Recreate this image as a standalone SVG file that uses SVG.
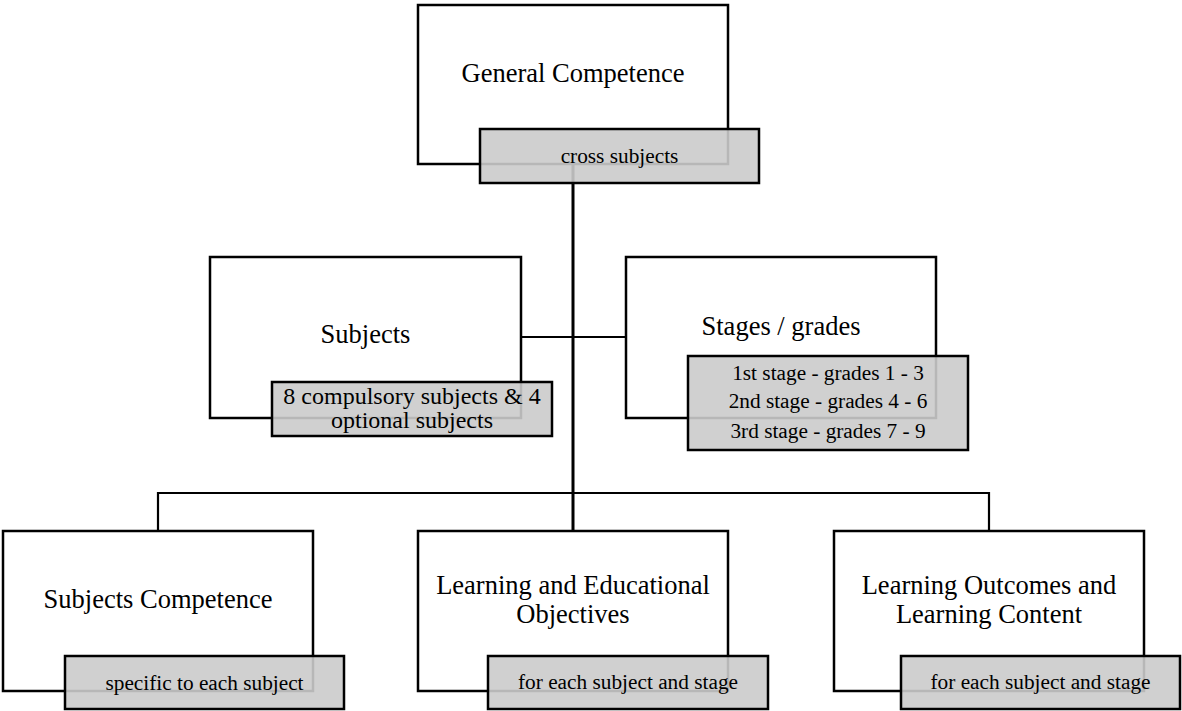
<svg xmlns="http://www.w3.org/2000/svg" width="1182" height="711" viewBox="0 0 1182 711">
<style>
.box{fill:#ffffff;stroke:#000;stroke-width:2.5}
.tag{fill:#cbcbcb;fill-opacity:0.9;stroke:#000;stroke-width:2.5}
.conn{fill:none;stroke:#000;stroke-width:2.2}
.trunk{fill:none;stroke:#000;stroke-width:3}
text{font-family:"Liberation Serif","Times New Roman",serif;fill:#000;text-anchor:middle}
.t{font-size:26.5px}
.s{font-size:21.3px}
.m{font-size:24px}
</style>
<rect width="1182" height="711" fill="#ffffff"/>
<g id="connectors">
<path class="conn" d="M521,337 H626"/>
<path class="conn" d="M158,531 V493 H989 V531"/>
<path class="trunk" d="M573,164 V531"/>
</g>
<g id="general">
<rect class="box" x="418" y="5" width="310" height="159"/>
<text class="t" x="573" y="82">General Competence</text>
<rect class="tag" x="480" y="129" width="279" height="54"/>
<text class="s" x="619.5" y="163">cross subjects</text>
</g>
<g id="subjects">
<rect class="box" x="210" y="257" width="311" height="161"/>
<text class="t" x="365.5" y="343">Subjects</text>
<rect class="tag" x="272" y="382" width="280" height="54"/>
<text class="m" x="412" y="404">8 compulsory subjects &amp; 4</text>
<text class="m" x="412" y="428">optional subjects</text>
</g>
<g id="stages">
<rect class="box" x="626" y="257" width="310" height="161"/>
<text class="t" x="781" y="335">Stages / grades</text>
<rect class="tag" x="688" y="356" width="280" height="94"/>
<text class="s" x="828" y="380">1st stage - grades 1 - 3</text>
<text class="s" x="828" y="408">2nd stage - grades 4 - 6</text>
<text class="s" x="828" y="438">3rd stage - grades 7 - 9</text>
</g>
<g id="subjects-competence">
<rect class="box" x="3" y="531" width="310" height="160"/>
<text class="t" x="158" y="608">Subjects Competence</text>
<rect class="tag" x="65" y="656" width="279" height="53"/>
<text class="s" x="204.5" y="690">specific to each subject</text>
</g>
<g id="objectives">
<rect class="box" x="418" y="531" width="310" height="160"/>
<text class="t" x="573" y="594">Learning and Educational</text>
<text class="t" x="573" y="623">Objectives</text>
<rect class="tag" x="488" y="656" width="280" height="53"/>
<text class="s" x="628" y="689">for each subject and stage</text>
</g>
<g id="outcomes">
<rect class="box" x="834" y="531" width="310" height="160"/>
<text class="t" x="989" y="594">Learning Outcomes and</text>
<text class="t" x="989" y="623">Learning Content</text>
<rect class="tag" x="901" y="656" width="279" height="53"/>
<text class="s" x="1040.5" y="689">for each subject and stage</text>
</g>
</svg>
